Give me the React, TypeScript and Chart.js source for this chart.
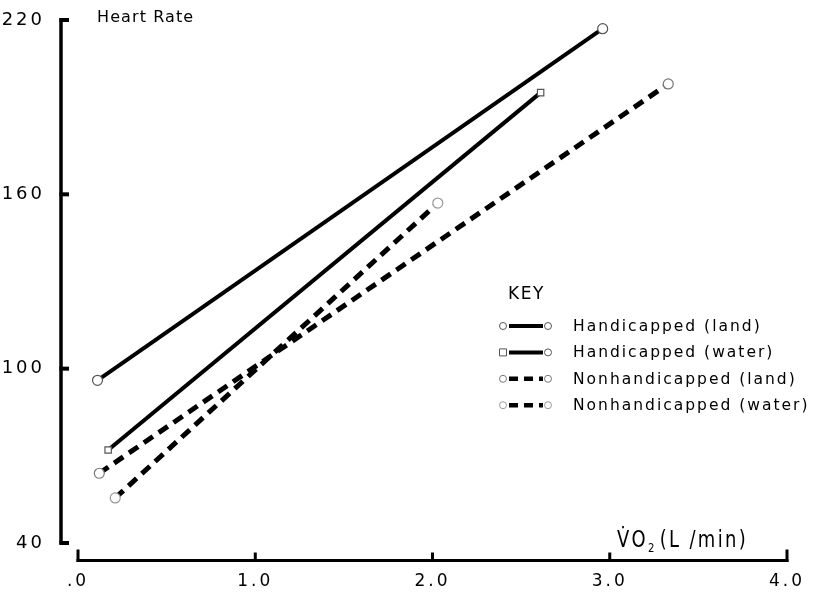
import React, { useEffect, useRef } from 'react';
import { Chart, registerables } from 'chart.js';

Chart.register(...registerables);

// ---- data ----
const seriesLabels = [
  'Handicapped (land)',
  'Handicapped (water)',
  'Nonhandicapped (land)',
  'Nonhandicapped (water)',
];
const handLandVO2 = [0.11, 2.96];
const handLandHR = [96, 217];
const handWaterVO2 = [0.17, 2.61];
const handWaterHR = [72, 195];
const nonLandVO2 = [0.12, 3.33];
const nonLandHR = [64, 198];
const nonWaterVO2 = [0.21, 2.03];
const nonWaterHR = [55.5, 157];

const xTickValues = [0, 1, 2, 3, 4];
const xTickLabels = ['.0', '1.0', '2.0', '3.0', '4.0'];
const yTickValues = [40, 100, 160, 220];
const yTickLabels = ['40', '100', '160', '220'];

const titleText = 'Heart Rate';
const keyTitle = 'KEY';
const xTitleMain = 'V\u0307O';
const xTitleSub = '2';
const xTitleUnit = '(L /min)';

const FONT = '"DejaVu Sans", "Liberation Sans", sans-serif';

const toPoints = (xs: number[], ys: number[]) => xs.map((x, i) => ({ x, y: ys[i] }));

const decorPlugin = {
  id: 'decor',
  beforeDraw(chart: any) {
    chart.ctx.letterSpacing = '3px';
  },
  afterDraw(chart: any) {
    const { ctx, chartArea } = chart;
    const xs = chart.scales.x;
    const ys = chart.scales.y;
    ctx.save();
    ctx.strokeStyle = '#000';
    ctx.fillStyle = '#000';
    ctx.lineCap = 'butt';

    // y axis line + ticks
    const ax = chartArea.left;
    const yTop = ys.getPixelForValue(yTickValues[yTickValues.length - 1]);
    const yBot = ys.getPixelForValue(yTickValues[0]);
    ctx.lineWidth = 3.5;
    ctx.beginPath();
    ctx.moveTo(ax, yTop - 2);
    ctx.lineTo(ax, yBot + 1.5);
    ctx.stroke();
    ctx.lineWidth = 4;
    yTickValues.forEach((v) => {
      const py = ys.getPixelForValue(v);
      ctx.beginPath();
      ctx.moveTo(ax - 1.5, py);
      ctx.lineTo(ax + 8, py);
      ctx.stroke();
    });

    // x axis line + ticks
    const ay = chartArea.bottom - 1.5;
    const x0 = xs.getPixelForValue(xTickValues[0]);
    const x1 = xs.getPixelForValue(xTickValues[xTickValues.length - 1]);
    ctx.lineWidth = 3;
    ctx.beginPath();
    ctx.moveTo(x0 - 1.5, ay);
    ctx.lineTo(x1 + 1.5, ay);
    ctx.stroke();
    xTickValues.forEach((v, i) => {
      const px = xs.getPixelForValue(v);
      const h = i === 0 || i === xTickValues.length - 1 ? 11 : 8;
      ctx.beginPath();
      ctx.moveTo(px, ay + 1.5);
      ctx.lineTo(px, ay - h);
      ctx.stroke();
    });

    // chart title (y-axis label)
    ctx.letterSpacing = '1.1px';
    ctx.font = '16px ' + FONT;
    ctx.textAlign = 'left';
    ctx.textBaseline = 'middle';
    ctx.fillText(titleText, chartArea.left + 36, 18);

    // x axis title (condensed lettering above the axis, right side)
    ctx.save();
    ctx.translate(617, 547);
    ctx.scale(0.78, 1);
    ctx.letterSpacing = '3px';
    ctx.textBaseline = 'alphabetic';
    ctx.font = '23px ' + FONT;
    ctx.fillText(xTitleMain, 0, 0);
    const w = ctx.measureText(xTitleMain).width;
    ctx.font = '13px ' + FONT;
    ctx.fillText(xTitleSub, w, 5);
    ctx.font = '23px ' + FONT;
    ctx.fillText(xTitleUnit, w + 15, 0);
    ctx.restore();

    // legend
    ctx.letterSpacing = '1.6px';
    ctx.font = '17px ' + FONT;
    ctx.textBaseline = 'middle';
    ctx.fillText(keyTitle, 508, 295);
    ctx.letterSpacing = '2px';
    ctx.font = '15.5px ' + FONT;
    chart.data.datasets.forEach((ds: any, i: number) => {
      const ry = 326 + i * 26.4;
      ctx.save();
      ctx.strokeStyle = '#000';
      const dashed = ds.borderDash && ds.borderDash.length;
      ctx.lineWidth = dashed ? 4.5 : 4;
      ctx.setLineDash(dashed ? [9, 6] : []);
      ctx.beginPath();
      ctx.moveTo(509, ry);
      ctx.lineTo(543, ry);
      ctx.stroke();
      ctx.setLineDash([]);
      ctx.strokeStyle = ds.pointBorderColor;
      ctx.lineWidth = 1;
      [503, 548].forEach((mx, k) => {
        ctx.beginPath();
        if (ds.pointStyle === 'rect' && k === 0) {
          ctx.rect(mx - 3.5, ry - 3.5, 7, 7);
        } else {
          ctx.arc(mx, ry, 3.5, 0, Math.PI * 2);
        }
        ctx.stroke();
      });
      ctx.restore();
      ctx.fillStyle = '#000';
      ctx.fillText(ds.label, 573, ry + 1);
    });
    ctx.restore();
  },
};

export default function App() {
  const canvasRef = useRef<HTMLCanvasElement | null>(null);

  useEffect(() => {
    if (!canvasRef.current) return;
    const common = {
      showLine: true,
      borderColor: '#000',
      pointRadius: 5,
      pointBackgroundColor: '#fff',
      pointBorderWidth: 1.2,
      fill: false,
      tension: 0,
    };
    const chart = new Chart(canvasRef.current, {
      type: 'scatter',
      data: {
        datasets: [
          {
            ...common,
            label: seriesLabels[0],
            data: toPoints(handLandVO2, handLandHR),
            borderWidth: 4,
            borderDash: [],
            pointStyle: 'circle',
            pointBorderColor: '#555',
          },
          {
            ...common,
            label: seriesLabels[1],
            data: toPoints(handWaterVO2, handWaterHR),
            borderWidth: 4,
            borderDash: [],
            pointStyle: 'rect',
            pointRadius: 4.5,
            pointBorderColor: '#555',
          },
          {
            ...common,
            label: seriesLabels[2],
            data: toPoints(nonLandVO2, nonLandHR),
            borderWidth: 5,
            borderDash: [11, 7],
            pointStyle: 'circle',
            pointBorderColor: '#777',
          },
          {
            ...common,
            label: seriesLabels[3],
            data: toPoints(nonWaterVO2, nonWaterHR),
            borderWidth: 5,
            borderDash: [11, 7],
            pointStyle: 'circle',
            pointBorderColor: '#999',
          },
        ],
      },
      options: {
        animation: false,
        responsive: true,
        maintainAspectRatio: false,
        layout: { padding: { top: 20, right: 29, left: 0, bottom: 0 } },
        plugins: {
          legend: { display: false },
          tooltip: { enabled: false },
        },
        scales: {
          x: {
            type: 'linear',
            min: -0.096,
            max: 4,
            afterBuildTicks: (s: any) => {
              s.ticks = xTickValues.map((v) => ({ value: v }));
            },
            afterFit: (s: any) => {
              s.height = 33;
            },
            ticks: {
              color: '#000',
              font: { family: FONT, size: 17 },
              padding: 1,
              maxRotation: 0,
              autoSkip: false,
              callback: (v: any) => {
                const idx = xTickValues.indexOf(Number(v));
                return idx >= 0 ? xTickLabels[idx] : '';
              },
            },
            grid: { display: false },
            border: { display: false },
          },
          y: {
            type: 'linear',
            min: 33.46,
            max: 220,
            afterBuildTicks: (s: any) => {
              s.ticks = yTickValues.map((v) => ({ value: v }));
            },
            afterFit: (s: any) => {
              s.width = 61;
            },
            ticks: {
              color: '#000',
              font: { family: FONT, size: 18 },
              padding: 8,
              autoSkip: false,
              callback: (v: any) => {
                const idx = yTickValues.indexOf(Number(v));
                return idx >= 0 ? yTickLabels[idx] : '';
              },
            },
            grid: { display: false },
            border: { display: false },
          },
        },
      },
      plugins: [decorPlugin],
    } as any);
    return () => chart.destroy();
  }, []);

  return (
    <div style={{ position: 'fixed', left: 0, top: 0, width: 816, height: 595, background: '#fff' }}>
      <canvas ref={canvasRef} />
    </div>
  );
}
